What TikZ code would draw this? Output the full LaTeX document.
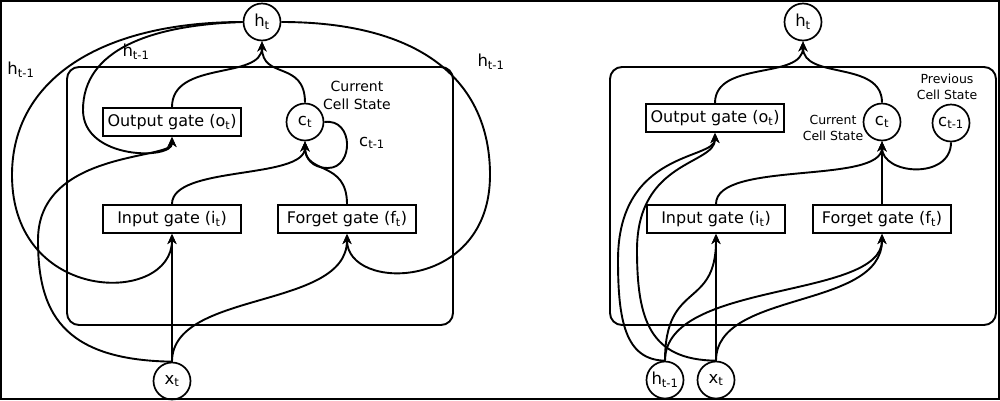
\documentclass[tikz,border=0pt]{standalone}
\usepackage{fontspec}
\setmainfont{DejaVu Sans}
\usetikzlibrary{arrows.meta}
\begin{document}
\begin{tikzpicture}[x=1pt,y=-1pt,
  line width=1.9pt,
  arr/.style={-{Stealth[length=10pt,width=9pt,inset=3pt]}},
  gatebox/.style={draw, line width=1.9pt, minimum width=138pt, minimum height=28pt, inner sep=0pt, font=\fontsize{16}{19}\selectfont},
  var/.style={draw, circle, minimum size=37pt, inner sep=0pt, line width=1.7pt, font=\fontsize{16.5}{19}\selectfont},
  lbl/.style={font=\fontsize{16.5}{19}\selectfont, inner sep=0pt},
  note/.style={font=\fontsize{14}{18}\selectfont, align=center, inner sep=0pt},
  smallnote/.style={font=\fontsize{12.5}{16.5}\selectfont, align=center, inner sep=0pt},
  cell/.style={draw, rounded corners=12pt, line width=1.9pt}
]
\useasboundingbox (0,0) rectangle (1000,400);
\draw[line width=2pt] (1,1) rectangle (999,399);

% ---------- left diagram ----------
\draw[cell] (67,67) rectangle (453,325);
\node[var] (hL) at (262,22) {h\textsubscript{t}};
\node[gatebox] (oL) at (172,122) {Output gate (o\textsubscript{t})};
\node[var] (cL) at (305,122) {c\textsubscript{t}};
\node[gatebox] (iL) at (172,219) {Input gate (i\textsubscript{t})};
\node[gatebox] (fL) at (347,219) {Forget gate (f\textsubscript{t})};
\node[var] (xL) at (172,381) {x\textsubscript{t}};
\node[note] (csL) at (357,95) {Current\\Cell State};
\node[lbl] (cprevL) at (372,143) {c\textsubscript{t-1}};
\node[lbl] (hlab1) at (21,70) {h\textsubscript{t-1}};
\node[lbl] (hlab2) at (136,52) {h\textsubscript{t-1}};
\node[lbl] (hlab3) at (491,62) {h\textsubscript{t-1}};

\draw[arr] (oL.north) .. controls (172,60) and (262,80) .. (hL.south);
\draw[arr] (cL.north) .. controls (305,60) and (262,80) .. (hL.south);
\draw[arr] (iL.north) .. controls (172,165) and (305,180) .. (cL.south);
\draw[arr] (fL.north) .. controls (347,160) and (305,175) .. (cL.south);
\draw[arr] (cL.east) .. controls (354,118) and (354,168) .. (328,168) .. controls (312,168) and (305,158) .. (cL.south);
\draw[arr] (hL.west) .. controls (150,25) and (83,50) .. (83,110) .. controls (83,160) and (172,160) .. (oL.south);
\draw[arr] (hL.west) .. controls (100,22) and (12,80) .. (12,175) .. controls (12,305) and (172,305) .. (iL.south);
\draw[arr] (hL.east) .. controls (420,22) and (490,80) .. (490,175) .. controls (490,292) and (347,292) .. (fL.south);
\draw[arr] (xL.north) -- (iL.south);
\draw[arr] (xL.north) .. controls (172,290) and (347,310) .. (fL.south);
\draw[arr] (xL.north) .. controls (60,360) and (38,310) .. (38,240) .. controls (38,150) and (172,160) .. (oL.south);

% ---------- right diagram ----------
\draw[cell] (610,67) rectangle (996,325);
\node[var] (hR) at (803,22) {h\textsubscript{t}};
\node[gatebox] (oR) at (715,118) {Output gate (o\textsubscript{t})};
\node[var] (cR) at (882,122) {c\textsubscript{t}};
\node[var] (cpR) at (951,123) {c\textsubscript{t-1}};
\node[gatebox] (iR) at (716,219) {Input gate (i\textsubscript{t})};
\node[gatebox] (fR) at (882,219) {Forget gate (f\textsubscript{t})};
\node[var] (hpR) at (665,380) {h\textsubscript{t-1}};
\node[var] (xR) at (716,380) {x\textsubscript{t}};
\node[smallnote] (psR) at (947,87) {Previous\\Cell State};
\node[smallnote] (csR) at (833,128) {Current\\Cell State};

\draw[arr] (oR.north) .. controls (715,60) and (803,80) .. (hR.south);
\draw[arr] (cR.north) .. controls (882,60) and (803,80) .. (hR.south);
\draw[arr] (cpR.south) .. controls (951,180) and (882,175) .. (cR.south);
\draw[arr] (fR.north) -- (cR.south);
\draw[arr] (iR.north) .. controls (716,160) and (882,185) .. (cR.south);
\draw[arr] (xR.north) -- (iR.south);
\draw[arr] (xR.north) .. controls (716,290) and (882,310) .. (fR.south);
\draw[arr] (hpR.north) .. controls (665,280) and (882,300) .. (fR.south);
\draw[arr] (hpR.north) .. controls (665,280) and (716,310) .. (iR.south);
\draw[arr] (hpR.north) .. controls (625,360) and (618,320) .. (618,260) .. controls (618,150) and (715,160) .. (oR.south);
\draw[arr] (xR.north) .. controls (650,360) and (637,320) .. (637,250) .. controls (637,160) and (715,165) .. (oR.south);
\end{tikzpicture}
\end{document}
